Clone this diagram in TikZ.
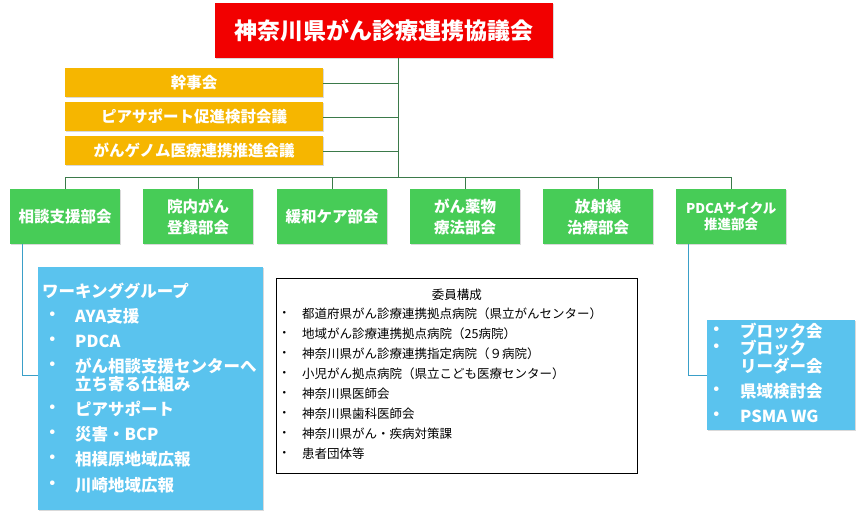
\documentclass[tikz,border=0pt]{standalone}
\usepackage{fontspec}
\setmainfont{Noto Sans CJK JP}
\usetikzlibrary{calc,shadows}
\definecolor{topred}{HTML}{F20000}
\definecolor{subgold}{HTML}{F6B600}
\definecolor{bukaigreen}{HTML}{47CC57}
\definecolor{wgblue}{HTML}{5AC3EE}
\definecolor{linegreen}{HTML}{3B7A4A}
\definecolor{lineblue}{HTML}{3A9FC8}
\tikzset{
  box/.style={draw=none,anchor=north west,inner sep=0pt,align=center,
    text=white,font=\bfseries,drop shadow={opacity=0.3,shadow xshift=1pt,shadow yshift=-1pt}},
  bukai/.style={box,fill=bukaigreen,minimum width=110,minimum height=55,font=\bfseries\fontsize{15.5}{21}\selectfont},
  sub/.style={box,fill=subgold,minimum width=258,minimum height=29,font=\bfseries\fontsize{15.5}{17}\selectfont},
  wgline/.style={anchor=west,text=white,font=\bfseries\fontsize{16.5}{19}\selectfont,inner sep=0pt},
  memline/.style={anchor=west,font=\fontsize{12.5}{14}\selectfont,inner sep=0pt},
}
\begin{document}
\begin{tikzpicture}[x=1pt,y=-1pt]
  \useasboundingbox (0,0) rectangle (858,517);
  % top
  \node[box,fill=topred,minimum width=338,minimum height=55,font=\bfseries\fontsize{23}{27}\selectfont]
    (top) at (215,3) {神奈川県がん診療連携協議会};
  \node[sub] (kanji) at (65,68) {幹事会};
  \node[sub] (peer) at (65,102) {ピアサポート促進検討会議};
  \node[sub] (genome) at (65,136) {がんゲノム医療連携推進会議};
  \coordinate (bus) at (398,177);
  \draw[linegreen] (top.south -| bus) -- (bus);
  \foreach \n in {kanji,peer,genome}
    \draw[linegreen] (\n.east) -- (\n.east -| bus);
  % bukai
  \node[bukai] (soudan) at (10,189) {相談支援部会};
  \node[bukai] (touroku) at (143,189) {院内がん\\登録部会};
  \node[bukai] (kanwa) at (277,189) {緩和ケア部会};
  \node[bukai] (yakubutsu) at (410,189) {がん薬物\\療法部会};
  \node[bukai] (housha) at (543,189) {放射線\\治療部会};
  \node[bukai,font=\bfseries\fontsize{13.5}{16}\selectfont] (pdca) at (676,189) {PDCAサイクル\\推進部会};
  \draw[linegreen] (soudan.north |- bus) -- (pdca.north |- bus);
  \foreach \n in {soudan,touroku,kanwa,yakubutsu,housha,pdca}
    \draw[linegreen] (\n.north |- bus) -- (\n.north);
  % working groups
  \node[box,fill=wgblue,minimum width=225,minimum height=243] (wg) at (38,267) {};
  \node[wgline] at (42,291) {ワーキンググループ};
  \foreach \y/\t in {316/AYA支援,341/PDCA,366/がん相談支援センターへ,384/立ち寄る仕組み,409/ピアサポート,434/災害・BCP,459/相模原地域広報,485/川崎地域広報}
    \node[wgline] at (75,\y) {\t};
  \foreach \y in {316,341,366,409,434,459,485}
    \node[wgline] at (44,\y) {・};
  \draw[lineblue] ([xshift=-43pt]soudan.south) |- (wg.west |- 0,375);
  % members
  \node[draw,thick,anchor=north west,minimum width=361,minimum height=195,inner sep=0pt] (member) at (276,278) {};
  \node[memline,anchor=center] at (member.north |- 0,295) {委員構成};
  \foreach \y/\t in {314/都道府県がん診療連携拠点病院（県立がんセンター）,334/地域がん診療連携拠点病院（25病院）,354/神奈川県がん診療連携指定病院（９病院）,374/小児がん拠点病院（県立こども医療センター）,394/神奈川県医師会,414/神奈川県歯科医師会,434/神奈川県がん・疾病対策課,454/患者団体等}{
    \node[memline] at (278,\y) {・};
    \node[memline] at (302,\y) {\t};
  }
  % pdca groups
  \node[box,fill=wgblue,minimum width=148,minimum height=110] (block) at (707,320) {};
  \foreach \y/\t in {331/ブロック会,348/ブロック,366/リーダー会,391/県域検討会,416/PSMA WG}
    \node[wgline] at (740,\y) {\t};
  \foreach \y in {331,348,391,416}
    \node[wgline] at (708,\y) {・};
  \draw[lineblue] ([xshift=-43pt]pdca.south) |- (block.west |- 0,375);
\end{tikzpicture}
\end{document}
